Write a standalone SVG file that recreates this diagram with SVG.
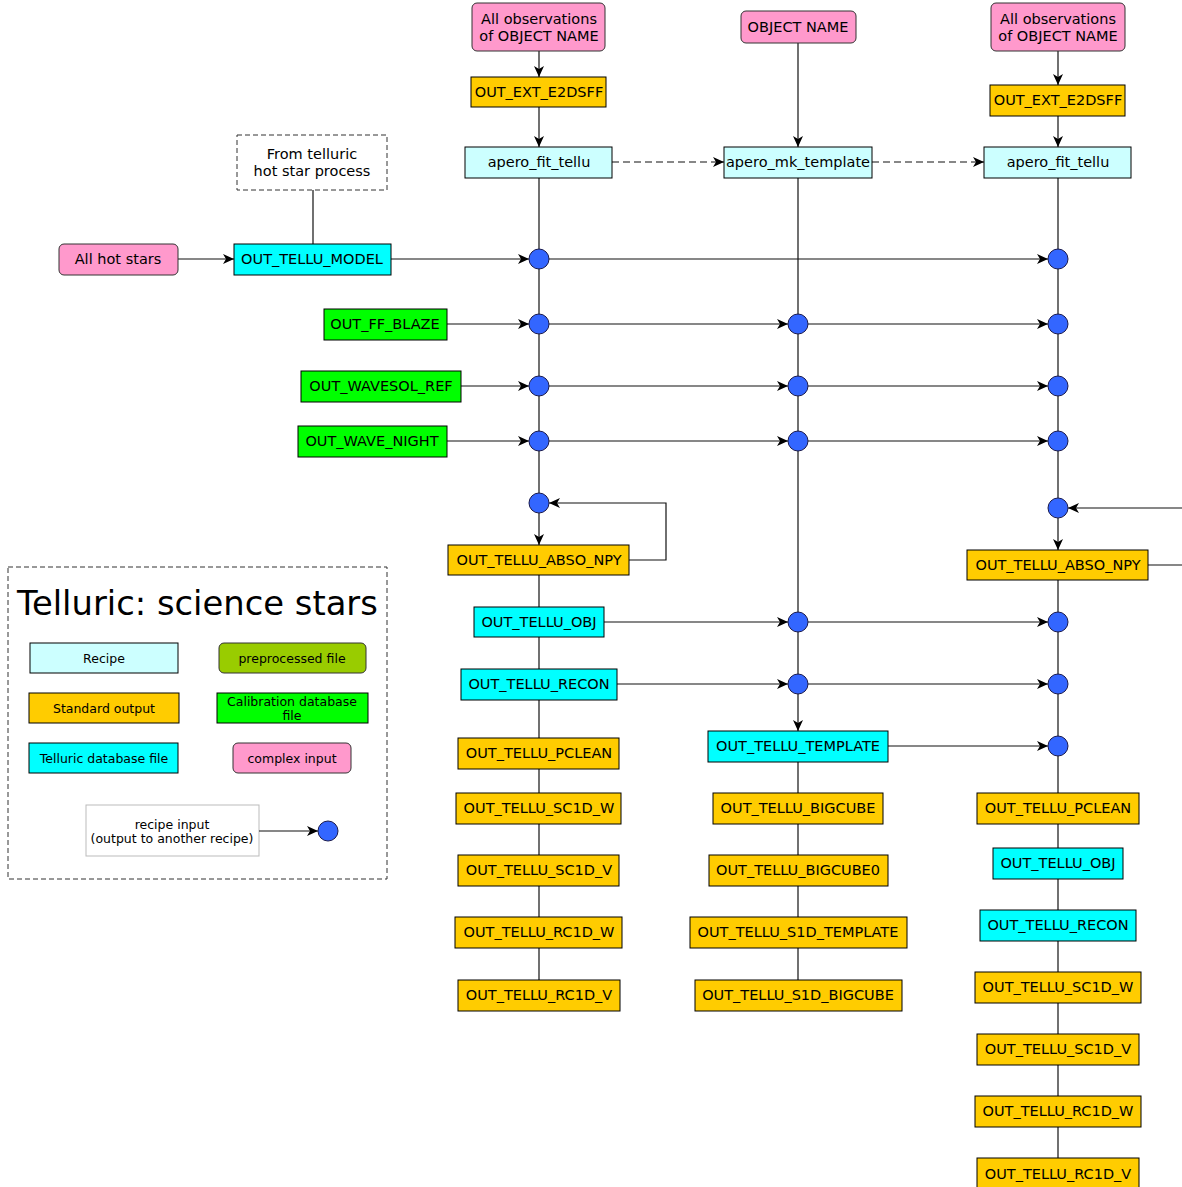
<svg xmlns="http://www.w3.org/2000/svg" width="1182" height="1187" viewBox="0 0 1182 1187">
  <style>
    text { font-family: "DejaVu Sans", "Liberation Sans", sans-serif; fill: #000; text-anchor: middle; dominant-baseline: central; }
    .t { font-size: 14.5px; }
    .s { font-size: 12.5px; }
    .title { font-size: 33.8px; text-anchor: start; }
    .box { stroke: #000; stroke-width: 1; }
    .pink { fill: #FF99CC; stroke: #333; stroke-width: 1; }
    .recipe { fill: #CCFFFF; }
    .std { fill: #FFCC00; }
    .tel { fill: #00FFFF; }
    .cal { fill: #00FF00; }
    .pre { fill: #99CC00; stroke: #333; stroke-width: 1; }
    .node { fill: #3366FF; stroke: #1a1a4d; stroke-width: 1; }
    .line { fill: none; stroke: #111; stroke-width: 1.2; }
    .arrow { fill: none; stroke: #111; stroke-width: 1.2; marker-end: url(#arr); }
    .dash { fill: none; stroke: #111; stroke-width: 1.2; stroke-dasharray: 7 4; marker-end: url(#arr); }
  </style>
  <defs>
    <marker id="arr" markerWidth="14" markerHeight="14" refX="12" refY="7" orient="auto" markerUnits="userSpaceOnUse">
      <path d="M1,2 L12,7 L1,12 L4,7 z" fill="#000"/>
    </marker>
  </defs>
  <rect width="1182" height="1187" fill="#fff"/>

  <!-- connectors -->
  <g id="connectors">
    <!-- left column -->
    <line class="arrow" x1="539" y1="51" x2="539" y2="77"/>
    <line class="arrow" x1="539" y1="107" x2="539" y2="147"/>
    <line class="line" x1="539" y1="178" x2="539" y2="493"/>
    <line class="arrow" x1="539" y1="513" x2="539" y2="545"/>
    <line class="line" x1="539" y1="575" x2="539" y2="980"/>
    <polyline class="arrow" points="629,560 666,560 666,503 549,503"/>
    <!-- middle column -->
    <line class="arrow" x1="798" y1="43" x2="798" y2="147"/>
    <line class="arrow" x1="798" y1="178" x2="798" y2="731"/>
    <line class="line" x1="798" y1="762" x2="798" y2="980"/>
    <!-- right column -->
    <line class="arrow" x1="1058" y1="51" x2="1058" y2="85"/>
    <line class="arrow" x1="1058" y1="116" x2="1058" y2="147"/>
    <line class="line" x1="1058" y1="178" x2="1058" y2="498"/>
    <line class="arrow" x1="1058" y1="518" x2="1058" y2="550"/>
    <line class="line" x1="1058" y1="580" x2="1058" y2="1158"/>
    <line class="arrow" x1="1182" y1="508" x2="1068" y2="508"/>
    <line class="line" x1="1148" y1="565" x2="1182" y2="565"/>
    <!-- recipe links -->
    <line class="dash" x1="612" y1="162" x2="724" y2="162"/>
    <line class="dash" x1="872" y1="162" x2="984" y2="162"/>
    <!-- hot star inputs -->
    <line class="line" x1="313" y1="190" x2="313" y2="244"/>
    <line class="arrow" x1="178" y1="259" x2="234" y2="259"/>
    <line class="arrow" x1="391" y1="259" x2="529" y2="259"/>
    <line class="arrow" x1="549" y1="259" x2="1048" y2="259"/>
    <!-- calibration inputs -->
    <line class="arrow" x1="447" y1="324" x2="529" y2="324"/>
    <line class="arrow" x1="549" y1="324" x2="788" y2="324"/>
    <line class="arrow" x1="808" y1="324" x2="1048" y2="324"/>
    <line class="arrow" x1="461" y1="386" x2="529" y2="386"/>
    <line class="arrow" x1="549" y1="386" x2="788" y2="386"/>
    <line class="arrow" x1="808" y1="386" x2="1048" y2="386"/>
    <line class="arrow" x1="447" y1="441" x2="529" y2="441"/>
    <line class="arrow" x1="549" y1="441" x2="788" y2="441"/>
    <line class="arrow" x1="808" y1="441" x2="1048" y2="441"/>
    <!-- telluric outputs feeding later recipes -->
    <line class="arrow" x1="604" y1="622" x2="788" y2="622"/>
    <line class="arrow" x1="808" y1="622" x2="1048" y2="622"/>
    <line class="arrow" x1="617" y1="684" x2="788" y2="684"/>
    <line class="arrow" x1="808" y1="684" x2="1048" y2="684"/>
    <line class="arrow" x1="888" y1="746" x2="1048" y2="746"/>
  </g>

  <!-- input nodes -->
  <g id="n-circles">
    <circle class="node" cx="539" cy="259" r="10"/>
    <circle class="node" cx="539" cy="324" r="10"/>
    <circle class="node" cx="539" cy="386" r="10"/>
    <circle class="node" cx="539" cy="441" r="10"/>
    <circle class="node" cx="539" cy="503" r="10"/>
    <circle class="node" cx="798" cy="324" r="10"/>
    <circle class="node" cx="798" cy="386" r="10"/>
    <circle class="node" cx="798" cy="441" r="10"/>
    <circle class="node" cx="798" cy="622" r="10"/>
    <circle class="node" cx="798" cy="684" r="10"/>
    <circle class="node" cx="1058" cy="259" r="10"/>
    <circle class="node" cx="1058" cy="324" r="10"/>
    <circle class="node" cx="1058" cy="386" r="10"/>
    <circle class="node" cx="1058" cy="441" r="10"/>
    <circle class="node" cx="1058" cy="508" r="10"/>
    <circle class="node" cx="1058" cy="622" r="10"/>
    <circle class="node" cx="1058" cy="684" r="10"/>
    <circle class="node" cx="1058" cy="746" r="10"/>
  </g>

  <!-- top inputs and recipes -->
  <g id="n-allobs-1"><rect class="pink" x="472" y="3" width="133" height="48" rx="5"/><text class="t" x="539" y="19">All observations</text><text class="t" x="539" y="36">of OBJECT NAME</text></g>
  <g id="n-e2dsff-1"><rect class="box std" x="471" y="77" width="135" height="30"/><text class="t" x="539" y="92">OUT_EXT_E2DSFF</text></g>
  <g id="n-fit-1"><rect class="box recipe" x="465" y="147" width="147" height="31"/><text class="t" x="539" y="162">apero_fit_tellu</text></g>
  <g id="n-objname"><rect class="pink" x="741" y="11" width="115" height="32" rx="5"/><text class="t" x="798" y="27">OBJECT NAME</text></g>
  <g id="n-mktemplate"><rect class="box recipe" x="724" y="147" width="148" height="31"/><text class="t" x="798" y="162">apero_mk_template</text></g>
  <g id="n-allobs-2"><rect class="pink" x="991" y="3" width="134" height="48" rx="5"/><text class="t" x="1058" y="19">All observations</text><text class="t" x="1058" y="36">of OBJECT NAME</text></g>
  <g id="n-e2dsff-2"><rect class="box std" x="990" y="85" width="135" height="31"/><text class="t" x="1058" y="100">OUT_EXT_E2DSFF</text></g>
  <g id="n-fit-2"><rect class="box recipe" x="984" y="147" width="147" height="31"/><text class="t" x="1058" y="162">apero_fit_tellu</text></g>

  <!-- hot star model inputs -->
  <g id="n-hotprocess"><rect x="237" y="135" width="150" height="55" fill="#fff" stroke="#333" stroke-dasharray="5 3"/><text class="t" x="312" y="154">From telluric</text><text class="t" x="312" y="171">hot star process</text></g>
  <g id="n-hotstars"><rect class="pink" x="59" y="244" width="119" height="31" rx="5"/><text class="t" x="118" y="259">All hot stars</text></g>
  <g id="n-tellmodel"><rect class="box tel" x="234" y="244" width="157" height="31"/><text class="t" x="312" y="259">OUT_TELLU_MODEL</text></g>

  <!-- calibration files -->
  <g id="n-ffblaze"><rect class="box cal" x="324" y="309" width="123" height="31"/><text class="t" x="385" y="324">OUT_FF_BLAZE</text></g>
  <g id="n-wavesolref"><rect class="box cal" x="301" y="371" width="160" height="31"/><text class="t" x="381" y="386">OUT_WAVESOL_REF</text></g>
  <g id="n-wavenight"><rect class="box cal" x="298" y="426" width="149" height="31"/><text class="t" x="372" y="441">OUT_WAVE_NIGHT</text></g>

  <!-- first apero_fit_tellu outputs -->
  <g id="n-abso-1"><rect class="box std" x="448" y="545" width="181" height="30"/><text class="t" x="539" y="560">OUT_TELLU_ABSO_NPY</text></g>
  <g id="n-obj-1"><rect class="box tel" x="474" y="607" width="130" height="30"/><text class="t" x="539" y="622">OUT_TELLU_OBJ</text></g>
  <g id="n-recon-1"><rect class="box tel" x="461" y="669" width="156" height="31"/><text class="t" x="539" y="684">OUT_TELLU_RECON</text></g>
  <g id="n-pclean-1"><rect class="box std" x="458" y="738" width="161" height="31"/><text class="t" x="539" y="753">OUT_TELLU_PCLEAN</text></g>
  <g id="n-sc1dw-1"><rect class="box std" x="456" y="793" width="165" height="31"/><text class="t" x="539" y="808">OUT_TELLU_SC1D_W</text></g>
  <g id="n-sc1dv-1"><rect class="box std" x="458" y="855" width="161" height="31"/><text class="t" x="539" y="870">OUT_TELLU_SC1D_V</text></g>
  <g id="n-rc1dw-1"><rect class="box std" x="455" y="917" width="167" height="31"/><text class="t" x="539" y="932">OUT_TELLU_RC1D_W</text></g>
  <g id="n-rc1dv-1"><rect class="box std" x="458" y="980" width="162" height="31"/><text class="t" x="539" y="995">OUT_TELLU_RC1D_V</text></g>

  <!-- apero_mk_template outputs -->
  <g id="n-template"><rect class="box tel" x="708" y="731" width="180" height="31"/><text class="t" x="798" y="746">OUT_TELLU_TEMPLATE</text></g>
  <g id="n-bigcube"><rect class="box std" x="713" y="793" width="170" height="31"/><text class="t" x="798" y="808">OUT_TELLU_BIGCUBE</text></g>
  <g id="n-bigcube0"><rect class="box std" x="709" y="855" width="179" height="31"/><text class="t" x="798" y="870">OUT_TELLU_BIGCUBE0</text></g>
  <g id="n-s1dtemplate"><rect class="box std" x="690" y="917" width="217" height="31"/><text class="t" x="798" y="932">OUT_TELLU_S1D_TEMPLATE</text></g>
  <g id="n-s1dbigcube"><rect class="box std" x="695" y="980" width="207" height="31"/><text class="t" x="798" y="995">OUT_TELLU_S1D_BIGCUBE</text></g>

  <!-- second apero_fit_tellu outputs -->
  <g id="n-abso-2"><rect class="box std" x="967" y="550" width="181" height="30"/><text class="t" x="1058" y="565">OUT_TELLU_ABSO_NPY</text></g>
  <g id="n-pclean-2"><rect class="box std" x="977" y="793" width="162" height="31"/><text class="t" x="1058" y="808">OUT_TELLU_PCLEAN</text></g>
  <g id="n-obj-2"><rect class="box tel" x="993" y="848" width="130" height="31"/><text class="t" x="1058" y="863">OUT_TELLU_OBJ</text></g>
  <g id="n-recon-2"><rect class="box tel" x="980" y="910" width="156" height="31"/><text class="t" x="1058" y="925">OUT_TELLU_RECON</text></g>
  <g id="n-sc1dw-2"><rect class="box std" x="975" y="972" width="166" height="31"/><text class="t" x="1058" y="987">OUT_TELLU_SC1D_W</text></g>
  <g id="n-sc1dv-2"><rect class="box std" x="977" y="1034" width="162" height="31"/><text class="t" x="1058" y="1049">OUT_TELLU_SC1D_V</text></g>
  <g id="n-rc1dw-2"><rect class="box std" x="975" y="1096" width="166" height="31"/><text class="t" x="1058" y="1111">OUT_TELLU_RC1D_W</text></g>
  <g id="n-rc1dv-2"><rect class="box std" x="977" y="1158" width="162" height="32"/><text class="t" x="1058" y="1174">OUT_TELLU_RC1D_V</text></g>

  <!-- legend -->
  <g id="legend">
    <rect x="8" y="567" width="379" height="312" fill="#fff" stroke="#333" stroke-dasharray="5 3"/>
    <text class="title" x="17" y="603">Telluric: science stars</text>
    <rect class="box recipe" x="30" y="643" width="148" height="30" stroke="#333"/><text class="s" x="104" y="658">Recipe</text>
    <rect class="pre" x="219" y="643" width="147" height="30" rx="5"/><text class="s" x="292" y="658">preprocessed file</text>
    <rect class="box std" x="29" y="693" width="150" height="30"/><text class="s" x="104" y="708">Standard output</text>
    <rect class="box cal" x="217" y="693" width="151" height="30"/><text class="s" x="292" y="701">Calibration database</text><text class="s" x="292" y="715">file</text>
    <rect class="box tel" x="29" y="743" width="149" height="30"/><text class="s" x="104" y="758">Telluric database file</text>
    <rect class="pink" x="233" y="743" width="118" height="30" rx="5"/><text class="s" x="292" y="758">complex input</text>
    <rect x="86" y="805" width="173" height="51" fill="#fff" stroke="#bbb"/>
    <text class="s" x="172" y="824">recipe input</text>
    <text class="s" x="172" y="838">(output to another recipe)</text>
    <line class="arrow" x1="259" y1="831" x2="318" y2="831"/>
    <circle class="node" cx="328" cy="831" r="10"/>
  </g>
</svg>
